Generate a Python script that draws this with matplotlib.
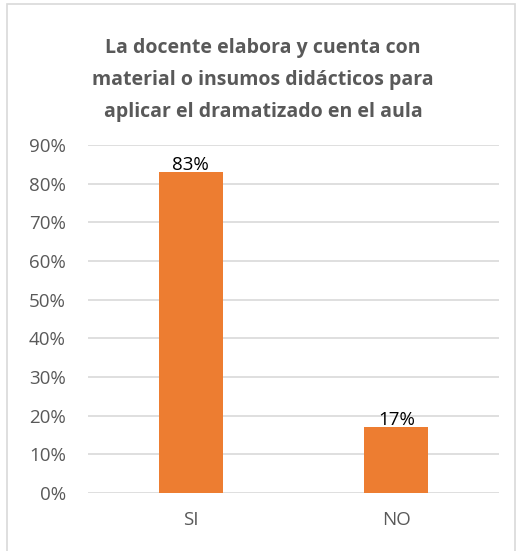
import matplotlib.pyplot as plt
from matplotlib.patches import Rectangle
from matplotlib.ticker import PercentFormatter

categories = ["SI", "NO"]
values = [0.83, 0.17]
labels = ["83%", "17%"]

plt.rcParams['font.family'] = ['Open Sans', 'DejaVu Sans']

fig = plt.figure(figsize=(5.26, 5.51), dpi=100)
ax = fig.add_axes([88 / 526, 1 - 493 / 551, 411 / 526, 348 / 551])

bars = ax.bar(categories, values, width=0.31, color="#ED7D31", zorder=3)
for b, lab in zip(bars, labels):
    ax.text(b.get_x() + b.get_width() / 2, b.get_height() - 0.004, lab,
            ha="center", va="bottom", fontsize=13.5, color="black")

ax.set_ylim(0, 0.9)
ax.set_xlim(-0.5, 1.5)
ax.set_yticks([i / 10 for i in range(10)])
ax.yaxis.set_major_formatter(PercentFormatter(1, decimals=0))
ax.grid(axis="y", color="#D9D9D9", linewidth=1.2, zorder=0)
for s in ax.spines.values():
    s.set_visible(False)
ax.tick_params(length=0, labelsize=13.5, labelcolor="#595959")
ax.tick_params(axis="y", pad=16)
ax.tick_params(axis="x", pad=13)

fig.text(0.5, 1 - 80 / 551,
         "La docente elabora y cuenta con\nmaterial o insumos didácticos para\naplicar el dramatizado en el aula",
         ha="center", va="center", fontsize=14, fontweight="bold", color="#595959",
         linespacing=1.8)

fig.patches.append(Rectangle((7 / 526, -0.01), 508 / 526, 1 - 4 / 551 + 0.01,
                             transform=fig.transFigure, fill=False,
                             edgecolor="#D9D9D9", linewidth=1.2))

fig.savefig("out.png", dpi=100)
